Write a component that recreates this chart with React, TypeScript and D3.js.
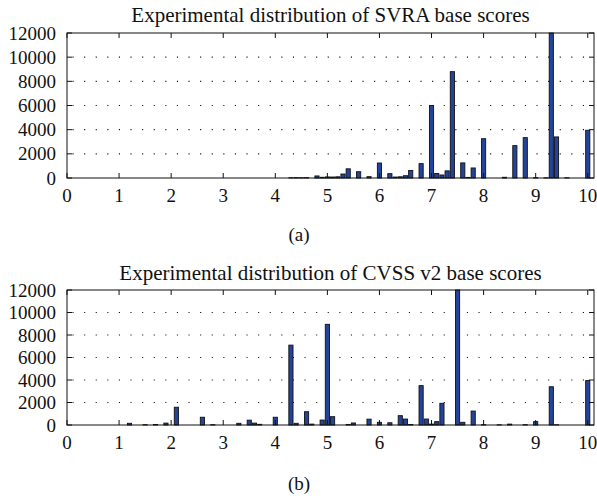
import React from "react";
import * as d3 from "d3";

const svraTitle = "Experimental distribution of SVRA base scores";
const cvssTitle = "Experimental distribution of CVSS v2 base scores";

const svraScores = [4.3, 4.4, 4.5, 4.6, 4.8, 4.9, 5.0, 5.1, 5.2, 5.3, 5.4, 5.6, 5.8, 6.0, 6.2, 6.3, 6.4, 6.5, 6.6, 6.8, 7.0, 7.1, 7.2, 7.3, 7.4, 7.6, 7.7, 7.8, 8.0, 8.4, 8.6, 8.8, 9.0, 9.2, 9.3, 9.4, 9.6, 10.0];
const svraCounts = [20, 30, 20, 30, 170, 60, 90, 80, 100, 330, 760, 520, 110, 1240, 360, 80, 100, 190, 620, 1190, 6000, 370, 250, 590, 8800, 1250, 50, 830, 3250, 60, 2680, 3340, 30, 15, 12000, 3400, 20, 3950];

const cvssScores = [1.2, 1.5, 1.7, 1.9, 2.1, 2.6, 2.8, 3.3, 3.5, 3.6, 3.7, 4.0, 4.3, 4.4, 4.6, 4.7, 4.9, 5.0, 5.1, 5.4, 5.5, 5.8, 6.0, 6.2, 6.4, 6.5, 6.6, 6.8, 6.9, 7.0, 7.1, 7.2, 7.5, 7.6, 7.8, 8.0, 8.3, 8.5, 8.8, 9.0, 9.3, 9.4, 10.0];
const cvssCounts = [150, 30, 50, 170, 1580, 690, 30, 150, 430, 170, 60, 690, 7100, 150, 1180, 80, 440, 8950, 740, 40, 180, 520, 240, 200, 830, 530, 50, 3500, 530, 80, 300, 1930, 12000, 240, 1240, 30, 20, 80, 30, 300, 3400, 20, 3950];

const xTicks = [0, 1, 2, 3, 4, 5, 6, 7, 8, 9, 10];
const yTicks = [0, 2000, 4000, 6000, 8000, 10000, 12000];

const FONT = "'Liberation Serif', 'DejaVu Serif', serif";
const BAR_FILL = "#23449a";

type PanelProps = {
  title: string;
  scores: number[];
  counts: number[];
  top: number;
  bottom: number;
  titleY: number;
  caption: string;
  captionY: number;
};

function Panel({ title, scores, counts, top, bottom, titleY, caption, captionY }: PanelProps) {
  const left = 67;
  const right = 594;
  const x = d3.scaleLinear().domain([0, 10.12]).range([left, right]);
  const y = d3.scaleLinear().domain([0, 12000]).range([bottom, top]);
  const bw = x(0.08) - x(0);
  const tick = 5;
  return (
    <g>
      <text x={(left + right) / 2} y={titleY} textAnchor="middle" fontFamily={FONT} fontSize={21} fill="#111">
        {title}
      </text>
      {yTicks.slice(1, -1).map((v) => (
        <line key={"g" + v} x1={left + 5.5} x2={right} y1={y(v)} y2={y(v)} stroke="#111" strokeWidth={1.1} strokeDasharray="1.1 10.5" />
      ))}
      {scores.map((s, i) => (
        <rect
          key={"b" + i}
          x={x(s) - bw / 2}
          y={y(Math.min(counts[i], 12000))}
          width={bw}
          height={Math.max(0, y(0) - y(Math.min(counts[i], 12000)))}
          fill={BAR_FILL}
          stroke="#111"
          strokeWidth={0.9}
        />
      ))}
      <rect x={left} y={top} width={right - left} height={bottom - top} fill="none" stroke="#111" strokeWidth={1} />
      {xTicks.map((t) => (
        <g key={"x" + t}>
          <line x1={x(t)} x2={x(t)} y1={bottom} y2={bottom - tick} stroke="#111" />
          <line x1={x(t)} x2={x(t)} y1={top} y2={top + tick} stroke="#111" />
          <text x={x(t)} y={bottom + 24} textAnchor="middle" fontFamily={FONT} fontSize={19} fill="#111">
            {t}
          </text>
        </g>
      ))}
      {yTicks.map((t) => (
        <g key={"y" + t}>
          <line x1={left} x2={left + tick} y1={y(t)} y2={y(t)} stroke="#111" />
          <line x1={right} x2={right - tick} y1={y(t)} y2={y(t)} stroke="#111" />
          <text x={left - 11} y={y(t) + 6.5} textAnchor="end" fontFamily={FONT} fontSize={19} fill="#111">
            {t}
          </text>
        </g>
      ))}
      <text x={299} y={captionY} textAnchor="middle" fontFamily={FONT} fontSize={19} fill="#111">
        {caption}
      </text>
    </g>
  );
}

export default function App() {
  return (
    <svg width={597} height={496} style={{ position: "absolute", left: 0, top: 0, background: "#fff" }}>
      <rect width={597} height={496} fill="#fff" />
      <Panel title={svraTitle} scores={svraScores} counts={svraCounts} top={33} bottom={178} titleY={22} caption="(a)" captionY={241} />
      <Panel title={cvssTitle} scores={cvssScores} counts={cvssCounts} top={290} bottom={425} titleY={280} caption="(b)" captionY={490} />
    </svg>
  );
}
